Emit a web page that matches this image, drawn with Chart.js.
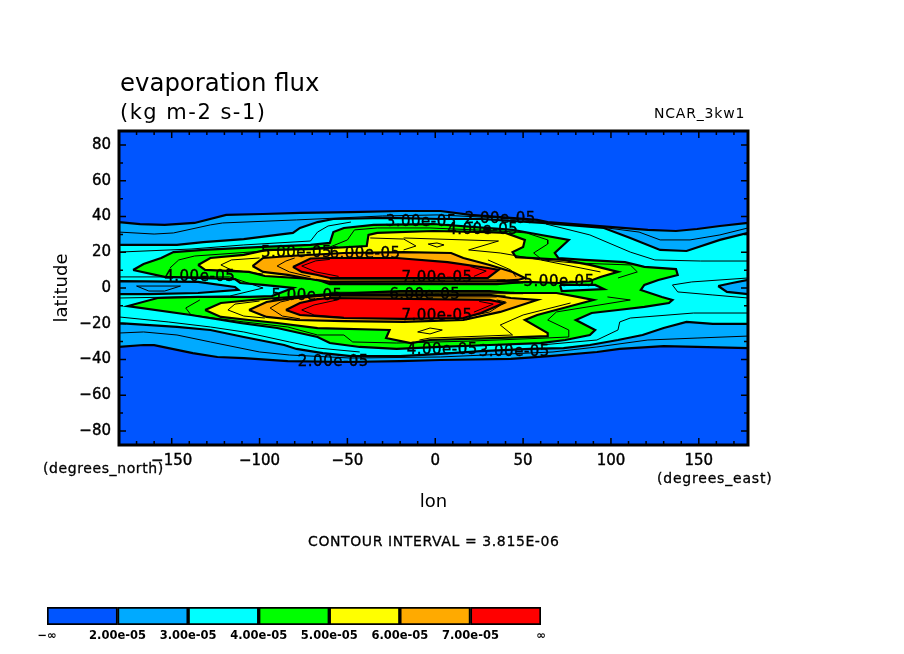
<!DOCTYPE html>
<html>
<head>
<meta charset="utf-8">
<script src="https://cdn.jsdelivr.net/npm/chart.js@4/dist/chart.umd.js"></script>
<style>
  html, body { margin: 0; padding: 0; background: #fff; }
  #wrap { position: relative; width: 904px; height: 654px; overflow: hidden; }
  canvas { position: absolute; left: 0; display: block; }
</style>
</head>
<body>
<div id="wrap">
  <canvas id="map" width="904" height="654" style="top:0"></canvas>
  <canvas id="bar" width="904" height="64" style="top:590px"></canvas>
</div>
<script>
// value axes
var lonMin = -180, lonMax = 178, latMin = -87.86, latMax = 87.86;

// colour bands, lowest first
var bandColors = ['#0055ff', '#00aaff', '#00ffff', '#00ff00', '#ffff00', '#ffaa00', '#ff0000'];
var barLabels = ['\u2212\u221e', '2.00e-05', '3.00e-05', '4.00e-05', '5.00e-05', '6.00e-05', '7.00e-05', '\u221e'];

// contour outlines, [lon, lat]
var domain = [[-180,-90],[178,-90],[178,90],[-180,90]];
var level2 = [[-180,36.9],[-168,35.8],[-154,35.3],[-137,36.4],[-119,40.9],[-98,41.4],[-77,42],[-48,42.5],[-20,43.1],[3,43.1],[20,40.9],[37,39.7],[58,38.1],[64,36.9],[101,34.1],[121,32.5],[137,31.9],[149,33],[162,34.7],[178,36.4],
  [178,-33.6],[149,-33],[130,-32.5],[105,-34.1],[92,-35.8],[65,-38.1],[43,-39.7],[3,-40.3],[-20,-40.9],[-51,-41.4],[-84,-40.9],[-109,-39.2],[-124,-38.6],[-138,-36.4],[-160,-32],[-166,-31.9],[-180,-33]];
var level3 = [[-180,24.1],[-147,24.1],[-132,25.7],[-109,27.4],[-90,29.7],[-81,30.8],[-77,33.6],[-67,36.9],[-58,38.6],[-28,39.2],[3,38.6],[26,38.6],[61,36.4],[96,33.6],[111,28],[128,21.3],[143,20.7],[162,26.9],[178,30.8],
  [178,-20.1],[158,-20.1],[143,-19],[130,-22.4],[118,-26.3],[104,-29.1],[88,-31.9],[73,-33.6],[54,-34.1],[26,-35.3],[3,-36.9],[-20,-38.1],[-48,-38.1],[-64,-36.4],[-79,-34.1],[-86,-31.9],[-109,-27.4],[-128,-23.5],[-147,-21.8],[-180,-19.6]];
var holeWest = [[-180,3.9],[-135,3.4],[-114,0.6],[-112,-1.1],[-135,-2.8],[-163,-3.4],[-180,-3.4]];
var holeEast = [[161,1.1],[169,2.8],[178,4.5],[178,-3.4],[166,-2.2]];
var level4 = [[-172,10.1],[-166,13.4],[-156,16.8],[-149,20.1],[-132,21.3],[-101,22.9],[-71,24.1],[-60,25.2],[-58,31.3],[-52,33.6],[-35,35.3],[-1,35.8],[44,32.5],[54,30.8],[76,26.9],[68,19.6],[70,16.8],[85,15.7],[108,14.5],[119,11.8],[137,10.6],[138,7.3],[127,4.5],[119,1.7],[117,-1.1],[129,-5],[135,-6.7],[133,-8.4],[119,-10.6],[104,-12.3],[89,-14],[80,-17.9],[91,-23.5],[88,-26.3],[74,-29.1],[60,-30.8],[31,-31.9],[3,-33],[-22,-34.1],[-43,-33],[-60,-30.8],[-67,-27.4],[-90,-22.4],[-111,-19.6],[-139,-15.1],[-175,-10.1],[-158,-5.6],[-135,-5],[-106,-5],[-93,-4.5],[-81,0],[-98,1.7],[-111,2.8],[-114,5],[-154,6.2]];
var pocket = [[71,1.7],[91,1.7],[96,-0.6],[72,-1.7]];
var level5N = [[-135,12.9],[-128,16.8],[-109,18.5],[-96,21.3],[-71,21.8],[-39,23.5],[-38,29.7],[-33,30.8],[-1,31.9],[30,31.3],[40,30.8],[51,26.9],[50,22.9],[44,20.1],[46,17.3],[73,15.7],[88,12.9],[104,9],[94,6.2],[88,3.9],[71,2.8],[51,3.4],[35,2.2],[-60,2.2],[-68,5],[-97,6.7],[-106,9],[-131,10.1]];
var level5S = [[-131,-12.3],[-122,-8.4],[-104,-6.7],[-90,-5.6],[-60,-3.4],[-20,-1.7],[31,-1.7],[43,-2.8],[69,-2.8],[81,-5],[90,-6.7],[58,-15.1],[51,-17.9],[64,-25.2],[64,-26.9],[33,-28],[-3,-29.1],[-14,-30.8],[-28,-28],[-26,-23.5],[-67,-22.4],[-90,-19.6],[-106,-17.9],[-122,-16.2]];
var level6N = [[-104,12.3],[-98,16.8],[-83,17.9],[-52,19.6],[-18,20.1],[9,19.6],[16,16.8],[31,12.9],[44,9],[51,5.6],[47,4.5],[35,3.9],[-60,3.4],[-68,4.5],[-84,7.3],[-98,9]];
var level6S = [[-106,-12.3],[-96,-7.8],[-86,-6.2],[-60,-3.9],[31,-3.9],[43,-5.6],[58,-6.7],[37,-13.4],[16,-17.9],[-18,-19],[-52,-18.5],[-79,-17.9],[-96,-16.2]];
var level7N = [[-81,11.8],[-71,16.5],[-60,16.8],[-22,16.8],[7,14.5],[30,11.2],[36,10.1],[30,5.6],[-60,5.6],[-67,7.3],[-76,9]];
var level7S = [[-85,-12.3],[-77,-8.4],[-67,-6.2],[-60,-5.6],[31,-6.7],[39,-8.4],[26,-14],[16,-16.8],[-18,-17.3],[-52,-16.8],[-77,-15.1]];

// thin contours between the coloured levels
var thinLines = [
  [[-180,31.3],[-160,30.2],[-149,30.8],[-128,35.3],[-121,36.4],[-79,38.1],[-30,40.3],[1,40.9],[37,39.2],[94,34.1],[116,31.3],[128,26.9],[145,26.9],[162,29.7],[178,33.6]],
  [[-180,20.1],[-139,21.8],[-109,24.1],[-71,26.3],[-67,31.3],[-61,34.7],[-48,36.9]],
  [[63,35.8],[88,29.7],[111,20.1],[125,15.7],[151,15.1],[178,15.1]],
  [[-151,11.2],[-146,15.7],[-137,17.9],[-97,20.7],[-60,22.9],[-50,26.9],[-46,32.5],[-33,33.6],[-3,33.6],[37,31.9],[52,30.8],[64,26.9],[64,24.6],[56,19.6],[61,15.7],[79,14],[111,12.9],[115,9],[104,5.6]],
  [[-134,-6.7],[-142,-11.2],[-139,-15.1],[-109,-19],[-84,-21.8],[-67,-26.3],[-52,-26.3],[-47,-30.2],[-22,-30.8],[20,-29.7],[63,-28],[76,-27.4],[76,-23.5],[64,-17.9],[69,-13.4],[111,-6.7],[98,-5]],
  [[-180,-16.2],[-152,-19],[-128,-21.8],[-109,-24.6],[-83,-30.2],[-67,-33.6],[-43,-35.8]],
  [[60,-31.9],[92,-29.1],[104,-23.5],[105,-19],[111,-16.8],[147,-14],[178,-14]],
  [[-180,-25.2],[-166,-24.6],[-147,-26.3],[-128,-30.2],[-100,-35.8],[-83,-37.5],[-48,-39.2],[3,-38.6],[67,-35.8],[92,-33],[121,-29.1],[149,-28],[178,-26.9]],
  [[178,5.6],[146,3.4],[135,1.7],[138,-2.2],[158,-3.9],[178,-5.6]],
  [[-170,1.1],[-145,1.1],[-154,-1.7],[-163,-1.7],[-170,1.1]],
  [[-180,6.2],[-117,6.2],[-98,0],[-117,-4.5],[-180,-5.6]],
  [[-100,16.8],[-116,15.7],[-122,12.9],[-116,10.1],[-98,7.8]],
  [[-37,28],[-18,27.4],[-11,23.5],[-18,21.3]],
  [[-18,28],[36,26.3],[19,21.3],[37,19.6],[60,15.7],[94,9]],
  [[-4,24.6],[1,25.2],[5,24.1],[1,22.9],[-4,24.6]],
  [[-100,-7.3],[-114,-9],[-118,-12.3],[-109,-15.7],[-97,-16.8]],
  [[77,-8.4],[50,-15.1],[37,-20.7],[44,-26.3],[-3,-28],[-9,-29.1]],
  [[-3,-22.4],[4,-23.5],[-3,-25.7],[-10,-24.6],[-3,-22.4]],
  [[-80,16.8],[-85,15.1],[-90,12.3],[-83,9],[-71,6.2]],
  [[-83,-6.7],[-88,-7.8],[-94,-11.2],[-87,-15.7],[-77,-17.3]],
  [[30,15.7],[43,10.1],[46,6.2]],
  [[35,-6.7],[40,-7.8],[31,-13.4],[20,-15.7]],
  // inside the red bands, only near their ends
  [[-60,16],[-68,15.2],[-76,12.3],[-68,9],[-55,6.5]],
  [[20,12],[29,9.5],[22,6.5]],
  [[-55,-6.5],[-69,-9.5],[-76,-12.3],[-69,-15.1],[-52,-16.4]],
  [[25,-7.5],[33,-9],[22,-13.5]],
  // tightly packed lines either side of the equator
  [[-60,4.6],[40,4.6]],
  [[-60,3.6],[48,3.6]],
  [[-60,2.8],[50,2.8]],
  [[-60,-2.4],[45,-2.4]],
  [[-60,-3.2],[50,-3.2]],
  [[-60,-4.4],[40,-4.4]],
  [[-60,-5],[35,-5]]
];

// in-line contour labels
var labelTexts = ['3.00e-05','2.00e-05','4.00e-05','5.00e-05','6.00e-05','4.00e-05','7.00e-05','5.00e-05','5.00e-05','6.00e-05','7.00e-05','4.00e-05','3.00e-05','2.00e-05'];
var labelLons = [-8,37,27,-79,-40,-134,1,70.5,-73,-6,1,4,45,-58];
var labelLats = [37.5,39.2,33,20.1,19.6,6.7,6.2,3.9,-3.9,-3.4,-15.1,-34.1,-35.3,-40.9];

var FONT = '"DejaVu Sans", sans-serif';

function points(list) {
  return list.map(function (p) { return { x: p[0], y: p[1] }; });
}

var datasets = [];
function addBand(outline, color, width) {
  datasets.push({
    data: points(outline.concat([outline[0]])),
    showLine: true, fill: 'shape', backgroundColor: color,
    borderColor: width ? '#000' : color, borderWidth: width,
    pointRadius: 0, tension: 0, clip: 0
  });
}
addBand(domain, bandColors[0], 0);
addBand(level2, bandColors[1], 2.2);
addBand(level3, bandColors[2], 2.2);
addBand(holeWest, bandColors[1], 2.2);
addBand(holeEast, bandColors[1], 2.2);
addBand(level4, bandColors[3], 2.2);
addBand(pocket, bandColors[2], 2.2);
addBand(level5N, bandColors[4], 2.2);
addBand(level5S, bandColors[4], 2.2);
addBand(level6N, bandColors[5], 2.2);
addBand(level6S, bandColors[5], 2.2);
addBand(level7N, bandColors[6], 2.2);
addBand(level7S, bandColors[6], 2.2);
thinLines.forEach(function (line) {
  datasets.push({
    data: points(line), showLine: true, fill: false,
    borderColor: '#000', borderWidth: 1, pointRadius: 0, tension: 0, clip: 0
  });
});
// chart.js paints the first dataset last, so push the order the other way
datasets.forEach(function (d, i) { d.order = datasets.length - i; });

function drawText(ctx, text, x, y, font, spacing, align, stroke) {
  ctx.save();
  ctx.font = font;
  ctx.fillStyle = '#000';
  ctx.letterSpacing = (spacing || 0) + 'px';
  ctx.textAlign = align || 'left';
  ctx.textBaseline = 'alphabetic';
  ctx.fillText(text, x, y);
  if (stroke) {
    ctx.strokeStyle = '#000';
    ctx.lineWidth = stroke;
    ctx.strokeText(text, x, y);
  }
  ctx.restore();
}

var mapDecor = {
  id: 'mapDecor',
  afterDatasetsDraw: function (chart) {
    var ctx = chart.ctx, a = chart.chartArea, sx = chart.scales.x, sy = chart.scales.y;

    labelTexts.forEach(function (t, i) {
      var w = sx.getPixelForValue(labelLons[i]), h = sy.getPixelForValue(labelLats[i]);
      drawText(ctx, t, w, h + 5, '15px ' + FONT, 0.5, 'center', 0.4);
    });

    ctx.save();
    ctx.strokeStyle = '#000';
    ctx.lineWidth = 1.5;
    ctx.beginPath();
    var v, len;
    for (v = -170; v <= 170; v += 10) {
      len = v % 50 === 0 ? 7 : 4;
      var px = sx.getPixelForValue(v);
      ctx.moveTo(px, a.top); ctx.lineTo(px, a.top + len);
      ctx.moveTo(px, a.bottom); ctx.lineTo(px, a.bottom - len);
    }
    for (v = -80; v <= 80; v += 10) {
      len = v % 20 === 0 ? 7 : 4;
      var py = sy.getPixelForValue(v);
      ctx.moveTo(a.left, py); ctx.lineTo(a.left + len, py);
      ctx.moveTo(a.right, py); ctx.lineTo(a.right - len, py);
    }
    ctx.stroke();
    ctx.lineWidth = 3;
    ctx.strokeRect(a.left, a.top, a.right - a.left, a.bottom - a.top);
    ctx.restore();

    drawText(ctx, 'evaporation flux', 120, 91, '24.4px ' + FONT, 0);
    drawText(ctx, '(kg m-2 s-1)', 120, 119, '21px ' + FONT, 1.5);
    drawText(ctx, 'NCAR_3kw1', 654, 118, '14px ' + FONT, 0.8);
    drawText(ctx, '(degrees_north)', 43, 473, '14px ' + FONT, 0.6, 'left', 0.3);
    drawText(ctx, '(degrees_east)', 657, 483, '14px ' + FONT, 0.8, 'left', 0.3);
    drawText(ctx, 'CONTOUR INTERVAL = 3.815E-06', 308, 546, '14px ' + FONT, 0.6, 'left', 0.3);
  }
};

new Chart(document.getElementById('map'), {
  type: 'scatter',
  data: { datasets: datasets },
  plugins: [mapDecor],
  options: {
    responsive: false, animation: false, devicePixelRatio: 1,
    layout: { padding: { left: 0, right: 156, top: 131, bottom: 0 } },
    plugins: { legend: { display: false }, title: { display: false }, tooltip: { enabled: false } },
    scales: {
      x: {
        type: 'linear', min: lonMin, max: lonMax,
        afterFit: function (s) { s.height = 209; },
        grid: { display: false, drawTicks: false }, border: { display: false },
        title: { display: true, text: 'lon', color: '#000', font: { family: FONT, size: 18 }, padding: { top: 0, bottom: 141 } },
        ticks: {
          stepSize: 50, includeBounds: false, maxRotation: 0, autoSkip: false, padding: 7,
          color: '#000', font: { family: FONT, size: 15 }, textStrokeColor: '#000', textStrokeWidth: 0.4,
          callback: function (v) { return String(v).replace('-', '\u2212'); }
        }
      },
      y: {
        type: 'linear', min: latMin, max: latMax,
        afterFit: function (s) { s.width = 119; },
        grid: { display: false, drawTicks: false }, border: { display: false },
        title: { display: true, text: 'latitude', color: '#000', font: { family: FONT, size: 18 }, padding: { top: 52, bottom: 0 } },
        ticks: {
          stepSize: 20, includeBounds: false, autoSkip: false, padding: 8,
          color: '#000', font: { family: FONT, size: 15 }, textStrokeColor: '#000', textStrokeWidth: 0.4,
          callback: function (v) { return String(v).replace('-', '\u2212'); }
        }
      }
    }
  }
});

// colour bar
new Chart(document.getElementById('bar'), {
  type: 'bar',
  data: {
    labels: ['band'],
    datasets: bandColors.map(function (c) {
      return { data: [1], backgroundColor: c, borderColor: '#000', borderWidth: 2, barPercentage: 1, categoryPercentage: 1, borderSkipped: false };
    })
  },
  options: {
    indexAxis: 'y', responsive: false, animation: false, devicePixelRatio: 1,
    layout: { padding: { left: 47, right: 363, top: 17, bottom: 0 } },
    plugins: { legend: { display: false }, tooltip: { enabled: false } },
    scales: {
      x: {
        stacked: true, type: 'linear', min: 0, max: 7,
        afterFit: function (s) { s.height = 29; },
        grid: { display: false, drawTicks: false }, border: { display: false },
        ticks: {
          stepSize: 1, maxRotation: 0, autoSkip: false, padding: 4,
          color: '#000', font: { family: FONT, size: 11.5, weight: 'bold' },
          callback: function (v) { return barLabels[v]; }
        }
      },
      y: { stacked: true, display: false }
    }
  }
});
</script>
</body>
</html>
